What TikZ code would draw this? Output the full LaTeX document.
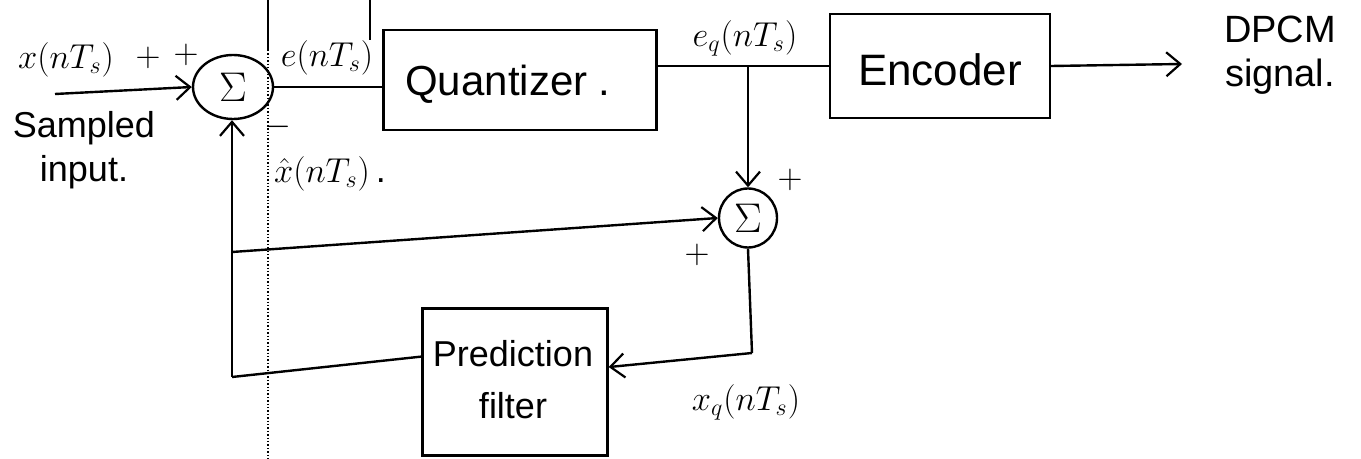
\documentclass[tikz,border=0pt]{standalone}
\usepackage{fontspec}
\setmainfont{Liberation Sans}
\usetikzlibrary{arrows.meta,shapes.geometric,calc}
\begin{document}
\begin{tikzpicture}[x=0.5pt,y=-0.5pt,
  line width=1.2pt,
  blk/.style={draw, rectangle, inner sep=0pt},
  sumc/.style={draw, ellipse, inner sep=0pt, font=\fontsize{22}{24}\selectfont},
  arr/.style={-{Straight Barb[length=7pt,width=12pt,line width=1.1pt]}},
  lbl/.style={inner sep=0pt, font=\fontsize{18}{20}\selectfont},
  txt/.style={inner sep=0pt, align=center},
  margin/.style={line width=0.7pt}
]
\useasboundingbox (0,0) rectangle (1361,459);
% notebook margin lines
\coordinate (m1) at (268,0);
\coordinate (m2) at (268,50);
\coordinate (m3) at (268,459);
\coordinate (m4) at (370,0);
\coordinate (m5) at (370,40);
\draw[margin] (m1) -- (m2);
\draw[margin, densely dotted] (m2) -- (m3);
\draw[margin] (m4) -- (m5);

% blocks
\node[sumc, minimum width=40pt, minimum height=32pt] (s1) at (233,87) {$\Sigma$};
\node[blk, minimum width=136.5pt, minimum height=50pt] (q) at (520,80) {};
\node[txt, font=\fontsize{21}{24}\selectfont] (qt) at (508,84) {Quantizer .};
\node[blk, minimum width=110pt, minimum height=52pt] (enc) at (940,66) {};
\node[txt, font=\fontsize{22}{24}\selectfont] (enct) at (940,70) {Encoder};
\node[blk, minimum width=92.5pt, minimum height=73.5pt] (pf) at (515,382) {};
\node[txt, font=\fontsize{18}{26}\selectfont] (pft) at (513,380) {Prediction\\filter};
\node[sumc, minimum width=29pt, minimum height=29.5pt] (s2) at (748,218) {$\Sigma$};

% free ends and bends
\coordinate (xin) at (55,94);
\coordinate (dout) at (1182,64);
\coordinate (b1) at (s2.north |- 0,66);
\coordinate (b2) at (232,252);
\coordinate (c1) at (232,377);
\coordinate (c3) at (752,353);

% connectors
\draw[arr] (xin) -- (s1.west);
\draw (s1.east) -- (q.west |- s1.east);
\draw (q.east |- b1) -- (enc.west |- b1);
\draw[arr] (enc.east |- b1) -- (dout);
\draw[arr] (b1) -- (s2.north);
\draw[arr] (b2) -- (s2.west);
\draw (s2.south) -- (c3);
\draw[arr] (c3) -- ($(pf.north east)!0.4!(pf.south east)$);
\draw ($(pf.north west)!0.33!(pf.south west)$) -- (c1);
\draw[arr] (c1) -- (c1 |- s1.south);

% labels
\node[lbl] (lx) at (66,60) {$x(nT_s)$};
\node[lbl] (p1) at (148,58) {$+$};
\node[lbl] (p2) at (186,55) {$+$};
\node[txt, font=\fontsize{18}{22}\selectfont] (si) at (84,150) {Sampled\\input.};
\node[lbl] (le) at (327,58) {$e(nT_s)$};
\node[lbl] (mn) at (278,127) {$-$};
\node[lbl] (lxh) at (330,174) {$\hat{x}(nT_s)$\,.};
\node[lbl] (leq) at (745,38) {$e_q(nT_s)$};
\node[txt, font=\fontsize{19}{22}\selectfont] (dp) at (1280,55) {DPCM\\signal.};
\node[lbl] (p3) at (790,180) {$+$};
\node[lbl] (p4) at (697,255) {$+$};
\node[lbl] (lxq) at (746,402) {$x_q(nT_s)$};
\end{tikzpicture}
\end{document}
